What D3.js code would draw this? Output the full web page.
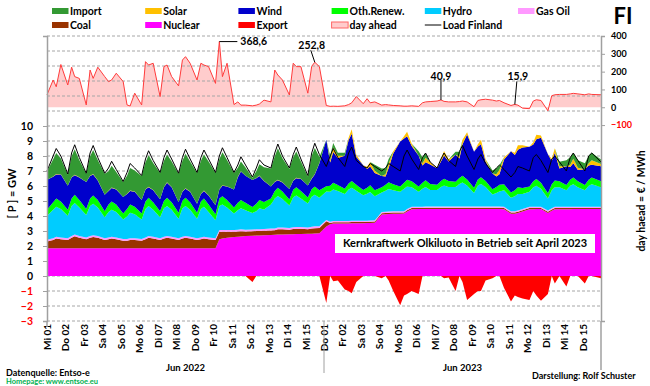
<!DOCTYPE html>
<html>
<head>
<meta charset="utf-8">
<script src="https://cdn.jsdelivr.net/npm/d3@7"></script>
<style>
  body { margin: 0; background: #fff; }
  svg { display: block; font-family: Lato, "Open Sans", sans-serif; font-weight: 700; }
</style>
</head>
<body>
<svg id="chart" width="650" height="386"></svg>
<script>
// Samples: 4 per day (hours 3, 8, 12, 18), 1-15 June 2022 then 1-15 June 2023
const HOURS = [3, 8, 12, 18];

const dayLabels = [
	"Mi 01", "Do 02", "Fr 03", "Sa 04", "So 05", "Mo 06", "Di 07", "Mi 08", "Do 09", "Fr 10",
	"Sa 11", "So 12", "Mo 13", "Di 14", "Mi 15",
	"Do 01", "Fr 02", "Sa 03", "So 04", "Mo 05", "Di 06", "Mi 07", "Do 08", "Fr 09", "Sa 10",
	"So 11", "Mo 12", "Di 13", "Mi 14", "Do 15"
];
const monthLabels = ["Jun 2022", "Jun 2023"];

// GW
const nuclear = [
	1.85,1.85,1.85,1.85, 1.85,1.85,1.85,1.85, 1.85,1.85,1.85,1.85, 1.85,1.85,1.85,1.85, 1.85,1.85,1.85,1.85,
	1.85,1.85,1.85,1.85, 1.85,1.85,1.85,1.85, 1.85,1.85,1.85,1.85, 1.85,1.85,1.85,1.85, 1.85,2.45,2.5,2.55,
	2.6,2.62,2.64,2.66, 2.68,2.7,2.7,2.72, 2.74,2.75,2.76,2.77, 2.78,2.78,2.8,2.8, 2.82,2.82,2.84,2.85,
	3.3,3.45,3.5,3.5, 3.5,3.5,3.52,3.52, 3.52,3.53,3.54,3.55, 4.1,4.12,4.14,4.15, 4.15,4.16,4.3,4.45,
	4.46,4.46,4.47,4.47, 4.47,4.47,4.47,4.47, 4.47,4.47,4.47,4.47, 4.47,4.47,4.47,4.47, 4.47,4.47,4.47,4.45,
	4.15,4.15,4.2,4.3, 4.45,4.45,4.46,4.46, 4.2,4.35,4.45,4.45, 4.45,4.45,4.46,4.46, 4.46,4.46,4.46,4.46
];
const coal = [
	.45,.55,.65,.6, .55,.7,.8,.7, .6,.7,.75,.7, .55,.6,.65,.6, .5,.5,.55,.55,
	.5,.6,.7,.65, .55,.65,.7,.65, .55,.65,.7,.65, .55,.6,.65,.6, .55,.5,.45,.4,
	.35,.35,.35,.3, .3,.3,.3,.3, .3,.3,.35,.35, .3,.35,.35,.35, .3,.35,.35,.35,
	.35,.08,.08,.08, .08,.08,.08,.08, .08,.08,.08,.08, .08,.08,.08,.08, .08,.08,.08,.08,
	.08,.08,.08,.08, .08,.08,.08,.08, .08,.08,.08,.08, .08,.08,.08,.08, .08,.08,.08,.08,
	.08,.08,.08,.08, .08,.08,.08,.08, .08,.08,.08,.08, .08,.08,.08,.08, .08,.08,.08,.08
];
const gasOil = [
	.12,.12,.12,.12, .12,.12,.12,.12, .12,.12,.12,.12, .12,.12,.12,.12, .12,.12,.12,.12,
	.12,.12,.12,.12, .12,.12,.12,.12, .12,.12,.12,.12, .12,.12,.12,.12, .12,.12,.12,.12,
	.12,.12,.12,.12, .12,.12,.12,.12, .12,.12,.12,.12, .12,.12,.12,.12, .12,.12,.12,.12,
	.08,.08,.08,.08, .08,.08,.08,.08, .08,.08,.08,.08, .08,.08,.08,.08, .08,.08,.08,.08,
	.08,.08,.08,.08, .08,.08,.08,.08, .08,.08,.08,.08, .08,.08,.08,.08, .08,.08,.08,.08,
	.08,.08,.08,.08, .08,.08,.08,.08, .08,.08,.08,.08, .08,.08,.08,.08, .08,.08,.08,.08
];
const hydro = [
	1.6,1.9,2.0,1.9, 1.5,2.0,2.1,1.9, 1.5,2.0,2.1,1.9, 1.4,1.7,1.8,1.7, 1.3,1.5,1.7,1.6,
	1.3,1.9,2.0,1.8, 1.4,1.9,2.0,1.8, 1.3,1.9,2.0,1.8, 1.3,1.9,2.0,1.7, 1.2,1.6,1.7,1.5,
	1.1,1.3,1.4,1.3, 1.1,1.2,1.4,1.3, 1.6,2.0,2.1,1.9, 1.5,2.0,2.1,1.9, 1.6,2.0,2.1,1.9,
	1.9,2.0,2.1,2.0, 1.8,2.1,2.2,2.0, 1.7,1.8,1.9,1.6, 1.3,1.4,1.5,1.4, 1.3,1.5,1.5,1.3,
	1.0,1.2,1.3,1.1, 1.1,1.3,1.4,1.3, 1.3,1.5,1.6,1.4, 0.9,1.4,1.5,1.3, 0.8,0.9,1.0,1.1,
	0.9,1.0,1.1,1.0, 1.0,1.3,1.4,1.2, 0.8,1.2,1.3,1.3, 1.1,1.4,1.5,1.3, 1.1,1.4,1.5,1.3
];
const othRenew = [
	.4,.5,.55,.5, .4,.5,.55,.5, .4,.5,.55,.5, .4,.5,.55,.5, .4,.5,.55,.5,
	.4,.5,.55,.5, .4,.5,.55,.5, .4,.5,.55,.5, .4,.5,.55,.5, .4,.5,.55,.5,
	.4,.5,.55,.5, .4,.5,.55,.5, .4,.5,.55,.5, .4,.5,.55,.5, .4,.5,.55,.5,
	.35,.4,.45,.4, .35,.4,.45,.4, .35,.4,.45,.4, .35,.4,.45,.4, .35,.4,.45,.4,
	.35,.4,.45,.4, .35,.4,.45,.4, .35,.4,.45,.4, .35,.4,.45,.4, .35,.4,.45,.4,
	.35,.4,.45,.4, .35,.4,.45,.4, .35,.4,.45,.4, .35,.4,.45,.4, .35,.4,.45,.4
];
const wind = [
	2.0,1.7,1.6,1.8, 1.6,1.4,1.3,1.5, 1.8,1.5,1.4,1.3, 1.1,0.9,0.9,1.0, 1.1,1.0,0.9,1.0,
	0.9,0.8,0.7,0.8, 0.8,0.9,1.0,1.0, 0.7,0.6,0.6,0.7, 0.6,0.5,0.5,0.6, 0.6,0.6,0.7,0.9,
	1.2,1.7,1.9,1.8, 1.8,1.7,1.6,1.4, 0.8,0.6,0.5,0.6, 0.7,0.6,0.6,0.8, 0.8,0.7,0.8,1.8,
	3.1,1.55,2.05,1.8, 2.2,2.9,3.15,1.85, 1.65,1.25,1.25,1.15, 0.75,0.55,0.95,2.05, 3.0,2.95,2.9,2.35,
	2.05,1.15,1.2,1.3, 1.1,1.3,1.55,1.3, 1.8,1.3,2.1,3.0, 2.4,2.2,2.2,1.3, 1.05,0.7,0.7,1.65,
	2.75,2.35,2.5,2.7, 2.65,2.45,2.65,3.0, 2.6,1.55,1.85,0.85, 1.25,0.85,0.95,0.75, 1.05,0.95,0.85,1.0
];
const solar = [
	0,.02,.03,.01, 0,.02,.03,.01, 0,.02,.03,.01, 0,.02,.03,.01, 0,.02,.03,.01,
	0,.02,.03,.01, 0,.02,.03,.01, 0,.02,.03,.01, 0,.02,.03,.01, 0,.02,.03,.01,
	0,.02,.03,.01, 0,.02,.03,.01, 0,.02,.03,.01, 0,.02,.03,.01, 0,.02,.03,.01,
	0,.15,.3,.15, 0,.15,.3,.15, 0,.15,.3,.15, 0,.15,.3,.15, 0,.15,.3,.15,
	0,.15,.3,.15, 0,.15,.3,.15, 0,.15,.3,.15, 0,.15,.3,.15, 0,.15,.3,.15,
	0,.15,.3,.15, 0,.15,.3,.15, 0,.15,.3,.15, 0,.15,.3,.15, 0,.15,.3,.15
];
const imports = [
	.55,1.15,1.4,1.05, .75,1.4,1.7,1.15, .55,1.3,1.6,1.35, 1.4,1.3,1.45,1.15, 1.0,1.2,1.5,1.4,
	1.6,1.8,2.1,1.8, 1.75,1.75,1.85,1.7, 1.9,2.05,2.3,2.0, 2.05,2.2,2.4,2.25, 2.15,2.0,2.2,1.75,
	1.1,.6,.65,.55, .15,.45,.75,.9, 1.2,1.7,2.1,1.6, 1.35,1.55,1.75,1.15, .6,1.5,1.75,.4,
	0,.3,.3,.2, .2,0,0,0, 0,0,0,.4, .5,.4,.3,0, 0,0,0,0,
	.3,.4,.3,0, 0,0,0,0, .2,.3,0,0, 0,0,0,0, .2,.4,.3,0,
	0,0,0,0, 0,0,0,0, 0,0,0,.3, .4,.5,.4,.5, .4,.5,.5,.3
];
const exportsFI = [
	0,0,0,0, 0,0,0,0, 0,0,0,0, 0,0,0,0, 0,0,0,0,
	0,0,0,0, 0,0,0,0, 0,0,0,0, 0,0,0,0, 0,0,0,0,
	0,0,0,0, -.4,0,0,0, 0,0,0,0, 0,0,0,0, 0,0,0,0,
	-1.8,0,-.35,-.3, -.9,-1.0,-1.15,-.4, 0,0,0,0, -.15,0,-.3,-1.0, -1.95,-1.3,-1.2,-1.0,
	-1.2,0,0,0, 0,0,-.15,-.1, -1.0,0,-.4,-1.6, -1.2,-1.0,-1.0,-.3, -.15,0,0,-.8,
	-1.7,-1.3,-1.4,-1.5, -1.6,-1.0,-1.3,-1.65, -1.2,0,-.5,0, -.7,0,0,0, -.5,0,0,-.15
];
const load = [
	7.0,8.0,8.5,8.0, 6.8,8.2,8.75,7.9, 6.85,8.2,8.7,7.9, 6.85,7.2,7.65,7.1, 6.3,6.9,7.5,7.2,
	6.7,7.8,8.35,7.7, 6.9,7.9,8.4,7.8, 6.85,7.9,8.45,7.8, 6.9,7.9,8.4,7.8, 6.9,8.0,8.55,7.9,
	6.9,7.4,7.95,7.4, 6.6,7.2,7.75,7.4, 7.2,8.2,8.8,8.0, 7.2,8.1,8.6,7.8, 6.7,8.2,8.85,8.1,
	7.3,8.0,8.5,7.9, 7.3,8.2,8.6,7.7, 7.3,7.2,7.5,7.3, 7.0,7.2,7.5,7.3, 7.0,8.0,8.4,7.8,
	7.1,7.9,8.2,7.6, 7.2,7.8,8.2,7.7, 7.3,8.3,8.7,8.0, 7.1,7.8,8.1,7.5, 6.9,7.2,7.4,7.1,
	6.6,6.9,7.3,7.2, 7.0,7.9,8.1,7.7, 6.9,7.8,8.0,7.6, 7.0,7.9,8.2,7.7, 7.0,8.0,8.2,7.6
];
// day ahead, EUR/MWh
const price = [
	70,153,115,240, 125,225,172,162, 13,209,162,225, 172,144,153,191, 144,13,7,79,
	13,256,237,247, 60,228,237,172, 120,265,284,247, 153,247,237,228, 134,368.6,172,247,
	15,30,12,12, 8,12,18,40, 30,209,181,153, 69,247,228,228, 79,230,252.8,228,
	10,5,6,5, 8,15,25,60, 20,48,25,30, 12,15,13,10, 8,6,6,8,
	5,25,30,32, 35,40.9,33,30, 30,32,35,30, 3,38,42,45, 40,35,38,25,
	10,15.9,12,-5, -8,35,42,38, -20,65,70,72, 72,75,78,75, 70,75,72,70
];
const priceMarks = [368.6, 252.8, 40.9, 15.9];

const series = [
	{key: "nuclear", name: "Nuclear", values: nuclear, color: "#ff00ff"},
	{key: "coal", name: "Coal", values: coal, color: "#993300"},
	{key: "gasOil", name: "Gas Oil", values: gasOil, color: "#ff99ff"},
	{key: "hydro", name: "Hydro", values: hydro, color: "#00ccff"},
	{key: "othRenew", name: "Oth.Renew.", values: othRenew, color: "#00ff00"},
	{key: "wind", name: "Wind", values: wind, color: "#0000cc"},
	{key: "solar", name: "Solar", values: solar, color: "#ffc000"},
	{key: "import", name: "Import", values: imports, color: "#339933"}
];
const colorOf = Object.fromEntries(series.map(s => [s.name, s.color]));

// Layout
const svg = d3.select("#chart");
const pLeft = 47, pRight = 601, pTop = 36, pBottom = 321;
const n = load.length;

const x = d3.scaleLinear().domain([0, 30]).range([pLeft, pRight]);
const yL = d3.scaleLinear().domain([-3, 16]).range([pBottom, pTop]);
const yR = d3.scaleLinear().domain([-1200, 400]).range([pBottom, pTop]);

// time of sample i in days; first and last sample pinned to the axis ends
const tOf = i => i === 0 ? 0 : (i === n - 1 ? 30 : Math.floor(i / 4) + HOURS[i % 4] / 24);

// Price area (below grid)
svg.append("path")
	.datum(price)
	.attr("fill", "#ffcccc")
	.attr("d", d3.area()
		.x((d, i) => x(tOf(i)))
		.y0(yR(0))
		.y1(d => yR(d)));

// Grid
svg.append("g")
	.selectAll("line")
	.data(d3.range(-3, 17))
	.join("line")
		.attr("x1", pLeft).attr("x2", pRight)
		.attr("y1", d => yL(d)).attr("y2", d => yL(d))
		.attr("stroke", "#a6a6a6")
		.attr("stroke-dasharray", "3,2");

svg.append("path")
	.datum(price)
	.attr("fill", "none")
	.attr("stroke", "#ff3b3b")
	.attr("stroke-width", 1)
	.attr("d", d3.line()
		.x((d, i) => x(tOf(i)))
		.y(d => yR(d)));

// Stacked generation
const rows = d3.range(n).map(i => {
	let r = {i: i};
	for (let s of series) r[s.key] = s.values[i];
	return r;
});
const stacked = d3.stack().keys(series.map(s => s.key))(rows);
const area = d3.area()
	.x(d => x(tOf(d.data.i)))
	.y0(d => yL(d[0]))
	.y1(d => yL(d[1]));

svg.append("g")
	.selectAll("path")
	.data(stacked)
	.join("path")
		.attr("fill", (d, k) => series[k].color)
		.attr("d", area);

// Export (negative)
svg.append("path")
	.datum(exportsFI)
	.attr("fill", "#ff0000")
	.attr("d", d3.area()
		.x((d, i) => x(tOf(i)))
		.y0(yL(0))
		.y1(d => yL(d)));

// Load
svg.append("path")
	.datum(load)
	.attr("fill", "none")
	.attr("stroke", "#000")
	.attr("stroke-width", 1)
	.attr("d", d3.line()
		.x((d, i) => x(tOf(i)))
		.y(d => yL(d)));

// Axes
const axisColor = "#a0a0a0";
const gL = svg.append("g")
	.attr("transform", "translate(" + pLeft + ",0)")
	.call(d3.axisLeft(yL).tickValues(d3.range(-3, 11)).tickSize(4).tickPadding(10));
gL.selectAll("text")
	.style("font-size", "10.5px")
	.attr("fill", d => d < 0 ? "#ff0000" : "#000");

const gR = svg.append("g")
	.attr("transform", "translate(" + pRight + ",0)")
	.call(d3.axisRight(yR).tickValues([-100, 0, 100, 200, 300, 400]).tickSize(4).tickPadding(6));
gR.selectAll("text")
	.style("font-size", "9px")
	.attr("fill", d => d < 0 ? "#ff0000" : "#000");

const gX = svg.append("g")
	.attr("transform", "translate(0," + pBottom + ")")
	.call(d3.axisBottom(x).tickValues(d3.range(30)).tickFormat(i => dayLabels[i]).tickSize(0));
gX.select(".domain").remove();
gX.selectAll("text")
	.style("font-size", "10px")
	.attr("text-anchor", "end")
	.attr("transform", "rotate(-90)")
	.attr("x", -3)
	.attr("y", 0)
	.attr("dy", "0.35em");

for (let g of [gL, gR]) {
	g.select(".domain").attr("stroke", axisColor).attr("stroke-width", 1.5);
	g.selectAll(".tick line").attr("stroke", axisColor);
	g.selectAll("text").style("font-family", "Lato").style("font-weight", 700);
}
gX.selectAll("text").style("font-family", "Lato").style("font-weight", 700);

// axis extensions and year divider
svg.append("line")
	.attr("x1", pRight).attr("x2", pRight).attr("y1", pBottom).attr("y2", 370)
	.attr("stroke", axisColor).attr("stroke-width", 1.5);
svg.append("line")
	.attr("x1", pLeft).attr("x2", pLeft).attr("y1", pBottom).attr("y2", 327)
	.attr("stroke", axisColor).attr("stroke-width", 1.5);
svg.append("line")
	.attr("x1", x(15)).attr("x2", x(15)).attr("y1", pBottom).attr("y2", 373)
	.attr("stroke", axisColor).attr("stroke-width", 1);

svg.selectAll(".month")
	.data(monthLabels)
	.join("text")
		.attr("x", (d, k) => x(7.5 + 15 * k))
		.attr("y", 371)
		.attr("text-anchor", "middle")
		.style("font-size", "9.5px")
		.text(d => d);

// Axis titles
svg.append("text")
	.attr("transform", "translate(16," + yL(5.5) + ") rotate(-90)")
	.attr("text-anchor", "middle")
	.style("font-size", "11px")
	.text("[ P ] = GW");
svg.append("text")
	.attr("transform", "translate(645," + yL(5) + ") rotate(-90)")
	.attr("text-anchor", "middle")
	.style("font-size", "10.5px")
	.text("day haead  =  € / MWh");

// Price annotations
const markOffsets = {
	368.6: {line: [[0, 0], [18, 0]], text: [21, 0], anchor: "start"},
	252.8: {line: [[0, 0], [-4, -12]], text: [-3, -17], anchor: "middle"},
	40.9: {line: [[0, 0], [0, -20]], text: [0, -24], anchor: "middle"},
	15.9: {line: [[0, 0], [2, -23]], text: [3, -28], anchor: "middle"}
};
for (let v of priceMarks) {
	let i = price.indexOf(v);
	let px = x(tOf(i)), py = yR(v);
	let o = markOffsets[v];
	svg.append("path")
		.attr("d", d3.line()(o.line.map(p => [px + p[0], py + p[1]])))
		.attr("stroke", "#000")
		.attr("fill", "none");
	svg.append("text")
		.attr("x", px + o.text[0])
		.attr("y", py + o.text[1])
		.attr("dy", "0.35em")
		.attr("text-anchor", o.anchor)
		.style("font-size", "10.5px")
		.text(String(v).replace(".", ","));
}

// Olkiluoto note
const note = svg.append("g");
note.append("rect")
	.attr("x", 335).attr("y", 234).attr("width", 260).attr("height", 19)
	.attr("fill", "#fff");
note.append("text")
	.attr("x", 465).attr("y", 243.5)
	.attr("dy", "0.35em")
	.attr("text-anchor", "middle")
	.style("font-size", "11px")
	.text("Kernkraftwerk Olkiluoto in Betrieb seit April 2023");

// Legend
const legendItems = [
	{name: "Import"}, {name: "Solar"}, {name: "Wind"}, {name: "Oth.Renew."}, {name: "Hydro"}, {name: "Gas Oil"},
	{name: "Coal"}, {name: "Nuclear"}, {name: "Export", color: "#ff0000"},
	{name: "day ahead", color: "#ffcccc", stroke: "#ff6666"}, {name: "Load Finland", line: true}
];
const leg = svg.append("g")
	.selectAll("g")
	.data(legendItems)
	.join("g")
		.attr("transform", (d, k) => "translate(" + (52 + (k % 6) * 93.2) + "," + (11 + Math.floor(k / 6) * 14) + ")");
leg.filter(d => !d.line).append("rect")
	.attr("x", 0).attr("y", -3).attr("width", 16.5).attr("height", 6)
	.attr("fill", d => d.color || colorOf[d.name])
	.attr("stroke", d => d.stroke || "none");
leg.filter(d => d.line).append("line")
	.attr("x1", 0).attr("x2", 16.5)
	.attr("stroke", "#000");
leg.append("text")
	.attr("x", 18)
	.attr("dy", "0.35em")
	.style("font-size", "10.5px")
	.text(d => d.name);

svg.append("text")
	.attr("x", 623).attr("y", 24)
	.attr("text-anchor", "middle")
	.style("font-size", "22px")
	.text("FI");

// Footer
svg.append("text")
	.attr("x", 6).attr("y", 376)
	.style("font-size", "9px")
	.text("Datenquelle: Entso-e");
svg.append("text")
	.attr("x", 6).attr("y", 384)
	.attr("fill", "#00b050")
	.style("font-size", "7.5px")
	.text("Homepage: www.entsoe.eu");
svg.append("text")
	.attr("x", 532).attr("y", 379)
	.style("font-size", "9px")
	.text("Darstellung:  Rolf Schuster");
</script>
</body>
</html>
